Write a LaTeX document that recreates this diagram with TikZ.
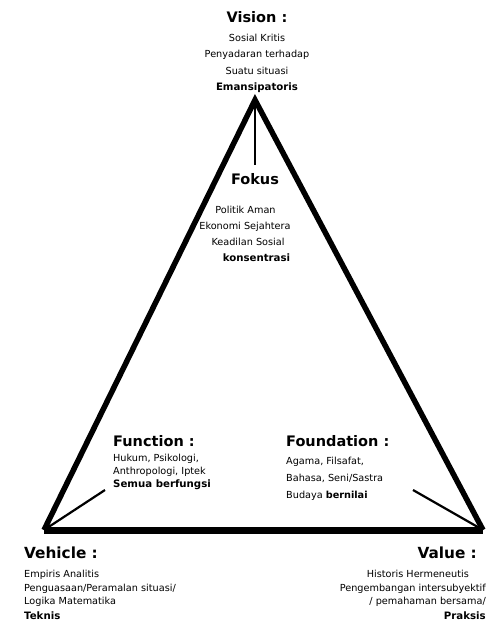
\documentclass[tikz,border=0pt]{standalone}
\usepackage{fontspec}
\setmainfont{DejaVu Sans}
\usetikzlibrary{calc}

\begin{document}
\begin{tikzpicture}[x=1pt,y=-1pt,inner sep=0pt,
  head/.style={font=\fontsize{14.5}{16}\selectfont\bfseries},
  bighead/.style={font=\fontsize{15.3}{17}\selectfont\bfseries},
  body/.style={font=\fontsize{9.7}{12}\selectfont},
  bodyb/.style={font=\fontsize{10.2}{12}\selectfont\bfseries},
  side/.style={line width=5.5pt,line join=miter},
  thin/.style={line width=2.2pt}]
  \useasboundingbox (0,0) rectangle (503,630);
  % ----- triangle -----
  \coordinate (apex) at (255,100);
  \coordinate (lc) at (44,530);
  \coordinate (rc) at (483,530);
  \coordinate (fokusend) at (255,165);
  \coordinate (fnend) at (105,490);
  \coordinate (fdend) at (413,490);
  \draw[side] (lc) -- (apex) -- (rc);
  \draw[line width=7pt] (lc) -- (rc);
  \draw[thin] (apex) -- (fokusend);
  \draw[thin] (lc) -- (fnend);
  \draw[thin] (rc) -- (fdend);
  % ----- vision -----
  \node[head,anchor=base] (vision) at (257,22){Vision :};
  \node[body,anchor=base] (vis1) at (257,41){Sosial Kritis};
  \node[body,anchor=base] (vis2) at (257,57){Penyadaran terhadap};
  \node[body,anchor=base] (vis3) at (257,74){Suatu situasi};
  \node[bodyb,anchor=base] (vis4) at (257,90){Emansipatoris};
  % ----- fokus -----
  \node[head,anchor=base] (fokus) at (255,184){Fokus};
  \node[body,anchor=base] (fok1) at (245.5,213){Politik Aman};
  \node[body,anchor=base] (fok2) at (245,229){Ekonomi Sejahtera};
  \node[body,anchor=base] (fok3) at (248,245){Keadilan Sosial};
  \node[bodyb,anchor=base] (fok4) at (256.5,261){konsentrasi};
  % ----- function -----
  \node[head,anchor=base west] (function) at (113,446){Function :};
  \node[body,anchor=base west] (fun1) at (113,461){Hukum, Psikologi,};
  \node[body,anchor=base west] (fun2) at (113,474){Anthropologi, Iptek};
  \node[bodyb,anchor=base west] (fun3) at (113,487){Semua berfungsi};
  % ----- foundation -----
  \node[head,anchor=base west] (foundation) at (286,446){Foundation :};
  \node[body,anchor=base west] (fou1) at (286,464){Agama, Filsafat,};
  \node[body,anchor=base west] (fou2) at (286,481){Bahasa, Seni/Sastra};
  \node[body,anchor=base west] (fou3) at (286,498){Budaya \textbf{bernilai}};
  % ----- vehicle -----
  \node[bighead,anchor=base west] (vehicle) at (24,558){Vehicle :};
  \node[body,anchor=base west] (veh1) at (24,577){Empiris Analitis};
  \node[body,anchor=base west] (veh2) at (24,591){Penguasaan/Peramalan situasi/};
  \node[body,anchor=base west] (veh3) at (24,604){Logika Matematika};
  \node[bodyb,anchor=base west] (veh4) at (24,619){Teknis};
  % ----- value -----
  \node[bighead,anchor=base east] (value) at (477,558){Value :};
  \node[body,anchor=base east] (val1) at (469,577){Historis Hermeneutis};
  \node[body,anchor=base east] (val2) at (486,591){Pengembangan intersubyektif};
  \node[body,anchor=base east] (val3) at (486,604){/ pemahaman bersama/};
  \node[bodyb,anchor=base east] (val4) at (486,619){Praksis};
\end{tikzpicture}
\end{document}
